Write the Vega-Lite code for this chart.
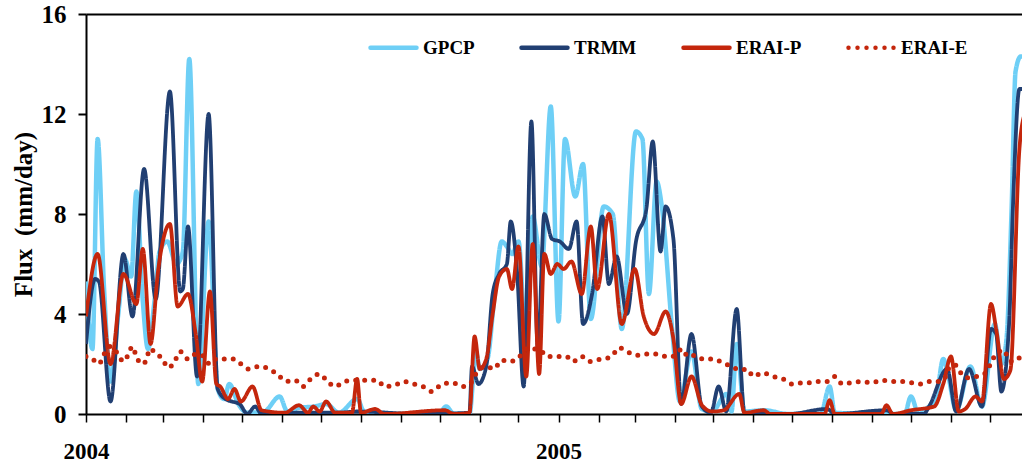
{
"$schema": "https://vega.github.io/schema/vega-lite/v6.json",
"width": 936, "height": 400,
"autosize": {"type": "none"},
"padding": {"left": 86, "top": 14, "right": 0, "bottom": 54},
"background": "white",
"config": {"view": {"stroke": null}, "font": "Liberation Serif",
  "axisY": {"titleFont": "Liberation Serif", "titleFontSize": 25, "titleFontWeight": "bold", "titleColor": "black", "titlePadding": 5}},
"data": {"values": [
{"date":"2004-01-01","series":"GPCP","value":5.3},{"date":"2004-01-06","series":"GPCP","value":2.6},{"date":"2004-01-10","series":"GPCP","value":11.0},{"date":"2004-01-15","series":"GPCP","value":5.0},{"date":"2004-01-20","series":"GPCP","value":1.3},{"date":"2004-01-26","series":"GPCP","value":4.0},{"date":"2004-01-31","series":"GPCP","value":6.2},{"date":"2004-02-05","series":"GPCP","value":5.5},{"date":"2004-02-09","series":"GPCP","value":8.9},{"date":"2004-02-14","series":"GPCP","value":4.5},{"date":"2004-02-18","series":"GPCP","value":2.6},{"date":"2004-02-23","series":"GPCP","value":4.5},{"date":"2004-02-27","series":"GPCP","value":6.5},{"date":"2004-03-04","series":"GPCP","value":6.9},{"date":"2004-03-11","series":"GPCP","value":6.0},{"date":"2004-03-16","series":"GPCP","value":6.5},{"date":"2004-03-21","series":"GPCP","value":14.2},{"date":"2004-03-28","series":"GPCP","value":1.2},{"date":"2004-04-05","series":"GPCP","value":7.7},{"date":"2004-04-12","series":"GPCP","value":1.0},{"date":"2004-04-17","series":"GPCP","value":0.6},{"date":"2004-04-21","series":"GPCP","value":1.2},{"date":"2004-04-28","series":"GPCP","value":0.4},{"date":"2004-05-05","series":"GPCP","value":0.05},{"date":"2004-05-18","series":"GPCP","value":0.1},{"date":"2004-05-30","series":"GPCP","value":0.7},{"date":"2004-06-05","series":"GPCP","value":0.1},{"date":"2004-06-14","series":"GPCP","value":0.25},{"date":"2004-06-26","series":"GPCP","value":0.3},{"date":"2004-07-05","series":"GPCP","value":0.4},{"date":"2004-07-15","series":"GPCP","value":0.05},{"date":"2004-07-29","series":"GPCP","value":0.6},{"date":"2004-08-04","series":"GPCP","value":0.05},{"date":"2004-08-30","series":"GPCP","value":0},{"date":"2004-09-30","series":"GPCP","value":0},{"date":"2004-10-06","series":"GPCP","value":0.3},{"date":"2004-10-12","series":"GPCP","value":0},{"date":"2004-10-24","series":"GPCP","value":0},{"date":"2004-10-29","series":"GPCP","value":2.5},{"date":"2004-11-01","series":"GPCP","value":1.8},{"date":"2004-11-07","series":"GPCP","value":2.2},{"date":"2004-11-12","series":"GPCP","value":4.5},{"date":"2004-11-18","series":"GPCP","value":6.9},{"date":"2004-11-22","series":"GPCP","value":6.7},{"date":"2004-11-26","series":"GPCP","value":6.4},{"date":"2004-12-01","series":"GPCP","value":6.9},{"date":"2004-12-07","series":"GPCP","value":2.6},{"date":"2004-12-12","series":"GPCP","value":7.9},{"date":"2004-12-19","series":"GPCP","value":5.9},{"date":"2004-12-26","series":"GPCP","value":12.3},{"date":"2005-01-01","series":"GPCP","value":3.7},{"date":"2005-01-06","series":"GPCP","value":11.0},{"date":"2005-01-14","series":"GPCP","value":8.7},{"date":"2005-01-20","series":"GPCP","value":10.0},{"date":"2005-01-26","series":"GPCP","value":3.8},{"date":"2005-02-05","series":"GPCP","value":8.3},{"date":"2005-02-12","series":"GPCP","value":8.0},{"date":"2005-02-19","series":"GPCP","value":3.4},{"date":"2005-03-02","series":"GPCP","value":11.3},{"date":"2005-03-07","series":"GPCP","value":11.0},{"date":"2005-03-12","series":"GPCP","value":4.8},{"date":"2005-03-18","series":"GPCP","value":9.3},{"date":"2005-03-22","series":"GPCP","value":8.3},{"date":"2005-03-30","series":"GPCP","value":3.4},{"date":"2005-04-05","series":"GPCP","value":0.5},{"date":"2005-04-14","series":"GPCP","value":2.5},{"date":"2005-04-22","series":"GPCP","value":0.2},{"date":"2005-04-30","series":"GPCP","value":0.1},{"date":"2005-05-11","series":"GPCP","value":0.8},{"date":"2005-05-15","series":"GPCP","value":0.1},{"date":"2005-05-19","series":"GPCP","value":2.8},{"date":"2005-05-25","series":"GPCP","value":0.1},{"date":"2005-06-09","series":"GPCP","value":0.15},{"date":"2005-06-28","series":"GPCP","value":0},{"date":"2005-07-23","series":"GPCP","value":0},{"date":"2005-07-30","series":"GPCP","value":1.1},{"date":"2005-08-03","series":"GPCP","value":0.05},{"date":"2005-09-06","series":"GPCP","value":0},{"date":"2005-09-26","series":"GPCP","value":0},{"date":"2005-10-01","series":"GPCP","value":0.7},{"date":"2005-10-07","series":"GPCP","value":0},{"date":"2005-10-15","series":"GPCP","value":0.3},{"date":"2005-10-20","series":"GPCP","value":0.5},{"date":"2005-10-26","series":"GPCP","value":2.2},{"date":"2005-10-30","series":"GPCP","value":1.5},{"date":"2005-11-05","series":"GPCP","value":0.15},{"date":"2005-11-16","series":"GPCP","value":1.9},{"date":"2005-11-25","series":"GPCP","value":0.3},{"date":"2005-12-05","series":"GPCP","value":3.6},{"date":"2005-12-10","series":"GPCP","value":2.0},{"date":"2005-12-14","series":"GPCP","value":3.0},{"date":"2005-12-18","series":"GPCP","value":8.3},{"date":"2005-12-21","series":"GPCP","value":13.7},{"date":"2005-12-25","series":"GPCP","value":14.3},{"date":"2005-12-28","series":"GPCP","value":14.3},
{"date":"2004-01-01","series":"TRMM","value":2.8},{"date":"2004-01-08","series":"TRMM","value":5.4},{"date":"2004-01-11","series":"TRMM","value":5.3},{"date":"2004-01-20","series":"TRMM","value":0.5},{"date":"2004-01-30","series":"TRMM","value":6.4},{"date":"2004-02-06","series":"TRMM","value":3.9},{"date":"2004-02-15","series":"TRMM","value":9.8},{"date":"2004-02-24","series":"TRMM","value":4.6},{"date":"2004-03-06","series":"TRMM","value":12.9},{"date":"2004-03-14","series":"TRMM","value":4.9},{"date":"2004-03-16","series":"TRMM","value":5.0},{"date":"2004-03-20","series":"TRMM","value":7.5},{"date":"2004-03-27","series":"TRMM","value":1.5},{"date":"2004-04-05","series":"TRMM","value":12.0},{"date":"2004-04-12","series":"TRMM","value":1.0},{"date":"2004-04-18","series":"TRMM","value":0.6},{"date":"2004-04-23","series":"TRMM","value":0.5},{"date":"2004-04-29","series":"TRMM","value":0.4},{"date":"2004-05-05","series":"TRMM","value":0},{"date":"2004-05-11","series":"TRMM","value":0.3},{"date":"2004-05-16","series":"TRMM","value":0},{"date":"2004-06-14","series":"TRMM","value":0.05},{"date":"2004-07-15","series":"TRMM","value":0.05},{"date":"2004-07-29","series":"TRMM","value":0.1},{"date":"2004-09-15","series":"TRMM","value":0},{"date":"2004-10-24","series":"TRMM","value":0.05},{"date":"2004-10-26","series":"TRMM","value":1.9},{"date":"2004-10-31","series":"TRMM","value":1.2},{"date":"2004-11-06","series":"TRMM","value":1.9},{"date":"2004-11-11","series":"TRMM","value":4.8},{"date":"2004-11-16","series":"TRMM","value":5.6},{"date":"2004-11-22","series":"TRMM","value":6.0},{"date":"2004-11-25","series":"TRMM","value":7.7},{"date":"2004-11-30","series":"TRMM","value":5.6},{"date":"2004-12-05","series":"TRMM","value":1.1},{"date":"2004-12-11","series":"TRMM","value":11.7},{"date":"2004-12-16","series":"TRMM","value":2.6},{"date":"2004-12-21","series":"TRMM","value":8.0},{"date":"2004-12-27","series":"TRMM","value":7.0},{"date":"2005-01-02","series":"TRMM","value":6.9},{"date":"2005-01-09","series":"TRMM","value":6.6},{"date":"2005-01-15","series":"TRMM","value":7.7},{"date":"2005-01-20","series":"TRMM","value":3.6},{"date":"2005-01-27","series":"TRMM","value":4.8},{"date":"2005-02-04","series":"TRMM","value":7.9},{"date":"2005-02-09","series":"TRMM","value":5.2},{"date":"2005-02-15","series":"TRMM","value":6.3},{"date":"2005-02-23","series":"TRMM","value":4.0},{"date":"2005-03-02","series":"TRMM","value":6.9},{"date":"2005-03-10","series":"TRMM","value":8.2},{"date":"2005-03-15","series":"TRMM","value":10.9},{"date":"2005-03-21","series":"TRMM","value":6.5},{"date":"2005-03-25","series":"TRMM","value":8.3},{"date":"2005-03-31","series":"TRMM","value":7.0},{"date":"2005-04-06","series":"TRMM","value":0.4},{"date":"2005-04-14","series":"TRMM","value":3.2},{"date":"2005-04-22","series":"TRMM","value":0.3},{"date":"2005-04-29","series":"TRMM","value":0.05},{"date":"2005-05-05","series":"TRMM","value":1.1},{"date":"2005-05-11","series":"TRMM","value":0.1},{"date":"2005-05-19","series":"TRMM","value":4.2},{"date":"2005-05-25","series":"TRMM","value":0.05},{"date":"2005-06-28","series":"TRMM","value":0},{"date":"2005-07-28","series":"TRMM","value":0.2},{"date":"2005-08-03","series":"TRMM","value":0},{"date":"2005-09-12","series":"TRMM","value":0.15},{"date":"2005-09-18","series":"TRMM","value":0},{"date":"2005-10-11","series":"TRMM","value":0},{"date":"2005-10-15","series":"TRMM","value":0.3},{"date":"2005-10-29","series":"TRMM","value":1.8},{"date":"2005-11-05","series":"TRMM","value":0.1},{"date":"2005-11-15","series":"TRMM","value":1.8},{"date":"2005-11-25","series":"TRMM","value":0.3},{"date":"2005-12-02","series":"TRMM","value":3.4},{"date":"2005-12-06","series":"TRMM","value":3.2},{"date":"2005-12-10","series":"TRMM","value":0.9},{"date":"2005-12-16","series":"TRMM","value":3.6},{"date":"2005-12-19","series":"TRMM","value":8.3},{"date":"2005-12-24","series":"TRMM","value":13.0},{"date":"2005-12-28","series":"TRMM","value":13.0},
{"date":"2004-01-01","series":"ERAI-P","value":3.9},{"date":"2004-01-10","series":"ERAI-P","value":6.4},{"date":"2004-01-20","series":"ERAI-P","value":2.0},{"date":"2004-01-30","series":"ERAI-P","value":5.6},{"date":"2004-02-09","series":"ERAI-P","value":4.4},{"date":"2004-02-14","series":"ERAI-P","value":6.6},{"date":"2004-02-20","series":"ERAI-P","value":2.8},{"date":"2004-02-26","series":"ERAI-P","value":5.8},{"date":"2004-03-06","series":"ERAI-P","value":7.6},{"date":"2004-03-12","series":"ERAI-P","value":4.3},{"date":"2004-03-20","series":"ERAI-P","value":4.8},{"date":"2004-03-26","series":"ERAI-P","value":3.2},{"date":"2004-03-31","series":"ERAI-P","value":1.3},{"date":"2004-04-06","series":"ERAI-P","value":4.9},{"date":"2004-04-11","series":"ERAI-P","value":1.2},{"date":"2004-04-14","series":"ERAI-P","value":1.1},{"date":"2004-04-20","series":"ERAI-P","value":0.6},{"date":"2004-04-25","series":"ERAI-P","value":1.0},{"date":"2004-04-30","series":"ERAI-P","value":0.5},{"date":"2004-05-09","series":"ERAI-P","value":1.1},{"date":"2004-05-16","series":"ERAI-P","value":0.15},{"date":"2004-06-03","series":"ERAI-P","value":0.05},{"date":"2004-06-14","series":"ERAI-P","value":0.35},{"date":"2004-06-21","series":"ERAI-P","value":0.05},{"date":"2004-06-25","series":"ERAI-P","value":0.3},{"date":"2004-06-30","series":"ERAI-P","value":0.1},{"date":"2004-07-05","series":"ERAI-P","value":0.5},{"date":"2004-07-12","series":"ERAI-P","value":0.05},{"date":"2004-07-25","series":"ERAI-P","value":0.05},{"date":"2004-07-29","series":"ERAI-P","value":1.4},{"date":"2004-08-01","series":"ERAI-P","value":0.05},{"date":"2004-08-12","series":"ERAI-P","value":0.2},{"date":"2004-08-19","series":"ERAI-P","value":0},{"date":"2004-10-05","series":"ERAI-P","value":0.15},{"date":"2004-10-12","series":"ERAI-P","value":0},{"date":"2004-10-24","series":"ERAI-P","value":0.05},{"date":"2004-10-28","series":"ERAI-P","value":3.1},{"date":"2004-11-01","series":"ERAI-P","value":1.8},{"date":"2004-11-06","series":"ERAI-P","value":2.2},{"date":"2004-11-11","series":"ERAI-P","value":4.0},{"date":"2004-11-16","series":"ERAI-P","value":5.5},{"date":"2004-11-22","series":"ERAI-P","value":5.8},{"date":"2004-11-26","series":"ERAI-P","value":5.0},{"date":"2004-12-01","series":"ERAI-P","value":6.7},{"date":"2004-12-07","series":"ERAI-P","value":1.5},{"date":"2004-12-12","series":"ERAI-P","value":6.8},{"date":"2004-12-17","series":"ERAI-P","value":1.6},{"date":"2004-12-21","series":"ERAI-P","value":6.4},{"date":"2004-12-26","series":"ERAI-P","value":5.6},{"date":"2004-12-31","series":"ERAI-P","value":6.0},{"date":"2005-01-05","series":"ERAI-P","value":5.8},{"date":"2005-01-11","series":"ERAI-P","value":6.1},{"date":"2005-01-19","series":"ERAI-P","value":4.8},{"date":"2005-01-26","series":"ERAI-P","value":7.5},{"date":"2005-01-31","series":"ERAI-P","value":5.0},{"date":"2005-02-09","series":"ERAI-P","value":8.0},{"date":"2005-02-19","series":"ERAI-P","value":3.6},{"date":"2005-03-01","series":"ERAI-P","value":5.8},{"date":"2005-03-08","series":"ERAI-P","value":3.9},{"date":"2005-03-16","series":"ERAI-P","value":3.2},{"date":"2005-03-25","series":"ERAI-P","value":4.1},{"date":"2005-03-31","series":"ERAI-P","value":3.0},{"date":"2005-04-06","series":"ERAI-P","value":0.4},{"date":"2005-04-14","series":"ERAI-P","value":1.5},{"date":"2005-04-22","series":"ERAI-P","value":0.36},{"date":"2005-04-30","series":"ERAI-P","value":0.1},{"date":"2005-05-09","series":"ERAI-P","value":0.15},{"date":"2005-05-21","series":"ERAI-P","value":0.8},{"date":"2005-05-25","series":"ERAI-P","value":0.05},{"date":"2005-06-09","series":"ERAI-P","value":0.15},{"date":"2005-06-14","series":"ERAI-P","value":0},{"date":"2005-07-26","series":"ERAI-P","value":0},{"date":"2005-07-30","series":"ERAI-P","value":0.55},{"date":"2005-08-03","series":"ERAI-P","value":0},{"date":"2005-09-08","series":"ERAI-P","value":0},{"date":"2005-09-12","series":"ERAI-P","value":0.35},{"date":"2005-09-17","series":"ERAI-P","value":0},{"date":"2005-10-01","series":"ERAI-P","value":0.15},{"date":"2005-10-19","series":"ERAI-P","value":0.3},{"date":"2005-10-26","series":"ERAI-P","value":1.2},{"date":"2005-11-01","series":"ERAI-P","value":2.3},{"date":"2005-11-07","series":"ERAI-P","value":0.1},{"date":"2005-11-12","series":"ERAI-P","value":0.2},{"date":"2005-11-20","series":"ERAI-P","value":0.7},{"date":"2005-11-25","series":"ERAI-P","value":0.5},{"date":"2005-12-02","series":"ERAI-P","value":4.4},{"date":"2005-12-06","series":"ERAI-P","value":3.4},{"date":"2005-12-12","series":"ERAI-P","value":1.4},{"date":"2005-12-17","series":"ERAI-P","value":1.75},{"date":"2005-12-24","series":"ERAI-P","value":10.6},{"date":"2005-12-28","series":"ERAI-P","value":12.0},
{"date":"2004-01-01","series":"ERAI-E","value":2.3},{"date":"2004-01-06","series":"ERAI-E","value":2.2},{"date":"2004-01-11","series":"ERAI-E","value":2.0},{"date":"2004-01-15","series":"ERAI-E","value":2.4},{"date":"2004-01-20","series":"ERAI-E","value":2.7},{"date":"2004-01-25","series":"ERAI-E","value":2.45},{"date":"2004-01-30","series":"ERAI-E","value":2.1},{"date":"2004-02-02","series":"ERAI-E","value":2.3},{"date":"2004-02-06","series":"ERAI-E","value":2.7},{"date":"2004-02-09","series":"ERAI-E","value":2.3},{"date":"2004-02-13","series":"ERAI-E","value":2.0},{"date":"2004-02-17","series":"ERAI-E","value":2.15},{"date":"2004-02-19","series":"ERAI-E","value":2.6},{"date":"2004-02-23","series":"ERAI-E","value":2.5},{"date":"2004-02-29","series":"ERAI-E","value":2.2},{"date":"2004-03-05","series":"ERAI-E","value":1.85},{"date":"2004-03-10","series":"ERAI-E","value":2.15},{"date":"2004-03-14","series":"ERAI-E","value":2.5},{"date":"2004-03-20","series":"ERAI-E","value":2.2},{"date":"2004-03-26","series":"ERAI-E","value":2.4},{"date":"2004-03-31","series":"ERAI-E","value":2.35},{"date":"2004-04-06","series":"ERAI-E","value":2.0},{"date":"2004-04-11","series":"ERAI-E","value":2.2},{"date":"2004-04-18","series":"ERAI-E","value":2.2},{"date":"2004-04-24","series":"ERAI-E","value":2.2},{"date":"2004-04-30","series":"ERAI-E","value":2.0},{"date":"2004-05-06","series":"ERAI-E","value":1.8},{"date":"2004-05-14","series":"ERAI-E","value":1.9},{"date":"2004-05-22","series":"ERAI-E","value":1.8},{"date":"2004-05-29","series":"ERAI-E","value":1.55},{"date":"2004-06-04","series":"ERAI-E","value":1.3},{"date":"2004-06-11","series":"ERAI-E","value":1.35},{"date":"2004-06-17","series":"ERAI-E","value":1.1},{"date":"2004-06-23","series":"ERAI-E","value":1.4},{"date":"2004-06-30","series":"ERAI-E","value":1.6},{"date":"2004-07-06","series":"ERAI-E","value":1.3},{"date":"2004-07-12","series":"ERAI-E","value":1.1},{"date":"2004-07-19","series":"ERAI-E","value":1.3},{"date":"2004-07-26","series":"ERAI-E","value":1.35},{"date":"2004-08-01","series":"ERAI-E","value":1.35},{"date":"2004-08-08","series":"ERAI-E","value":1.35},{"date":"2004-08-14","series":"ERAI-E","value":1.35},{"date":"2004-08-19","series":"ERAI-E","value":1.1},{"date":"2004-08-27","series":"ERAI-E","value":1.15},{"date":"2004-09-03","series":"ERAI-E","value":1.3},{"date":"2004-09-11","series":"ERAI-E","value":1.2},{"date":"2004-09-18","series":"ERAI-E","value":1.1},{"date":"2004-09-25","series":"ERAI-E","value":0.9},{"date":"2004-10-03","series":"ERAI-E","value":1.2},{"date":"2004-10-11","series":"ERAI-E","value":1.25},{"date":"2004-10-19","series":"ERAI-E","value":1.1},{"date":"2004-10-26","series":"ERAI-E","value":1.3},{"date":"2004-10-30","series":"ERAI-E","value":1.7},{"date":"2004-11-06","series":"ERAI-E","value":1.9},{"date":"2004-11-12","series":"ERAI-E","value":1.8},{"date":"2004-11-18","series":"ERAI-E","value":2.15},{"date":"2004-11-24","series":"ERAI-E","value":2.1},{"date":"2004-12-01","series":"ERAI-E","value":2.25},{"date":"2004-12-07","series":"ERAI-E","value":2.6},{"date":"2004-12-13","series":"ERAI-E","value":2.6},{"date":"2004-12-18","series":"ERAI-E","value":2.55},{"date":"2004-12-23","series":"ERAI-E","value":2.3},{"date":"2004-12-29","series":"ERAI-E","value":2.3},{"date":"2005-01-07","series":"ERAI-E","value":2.3},{"date":"2005-01-12","series":"ERAI-E","value":2.1},{"date":"2005-01-19","series":"ERAI-E","value":2.3},{"date":"2005-01-25","series":"ERAI-E","value":2.1},{"date":"2005-01-29","series":"ERAI-E","value":2.15},{"date":"2005-02-04","series":"ERAI-E","value":2.2},{"date":"2005-02-11","series":"ERAI-E","value":2.3},{"date":"2005-02-17","series":"ERAI-E","value":2.65},{"date":"2005-02-23","series":"ERAI-E","value":2.5},{"date":"2005-03-02","series":"ERAI-E","value":2.35},{"date":"2005-03-10","series":"ERAI-E","value":2.4},{"date":"2005-03-18","series":"ERAI-E","value":2.4},{"date":"2005-03-25","series":"ERAI-E","value":2.3},{"date":"2005-03-30","series":"ERAI-E","value":2.3},{"date":"2005-04-07","series":"ERAI-E","value":2.6},{"date":"2005-04-11","series":"ERAI-E","value":2.3},{"date":"2005-04-17","series":"ERAI-E","value":2.35},{"date":"2005-04-23","series":"ERAI-E","value":2.2},{"date":"2005-05-01","series":"ERAI-E","value":2.2},{"date":"2005-05-08","series":"ERAI-E","value":2.05},{"date":"2005-05-15","series":"ERAI-E","value":1.9},{"date":"2005-05-22","series":"ERAI-E","value":1.75},{"date":"2005-05-27","series":"ERAI-E","value":1.8},{"date":"2005-06-01","series":"ERAI-E","value":1.5},{"date":"2005-06-08","series":"ERAI-E","value":1.65},{"date":"2005-06-16","series":"ERAI-E","value":1.5},{"date":"2005-06-24","series":"ERAI-E","value":1.4},{"date":"2005-07-01","series":"ERAI-E","value":1.2},{"date":"2005-07-09","series":"ERAI-E","value":1.25},{"date":"2005-07-16","series":"ERAI-E","value":1.25},{"date":"2005-07-22","series":"ERAI-E","value":1.3},{"date":"2005-07-28","series":"ERAI-E","value":1.3},{"date":"2005-08-03","series":"ERAI-E","value":1.5},{"date":"2005-08-09","series":"ERAI-E","value":1.2},{"date":"2005-08-15","series":"ERAI-E","value":1.25},{"date":"2005-08-24","series":"ERAI-E","value":1.3},{"date":"2005-09-01","series":"ERAI-E","value":1.25},{"date":"2005-09-08","series":"ERAI-E","value":1.35},{"date":"2005-09-16","series":"ERAI-E","value":1.3},{"date":"2005-09-24","series":"ERAI-E","value":1.3},{"date":"2005-10-02","series":"ERAI-E","value":1.25},{"date":"2005-10-09","series":"ERAI-E","value":1.2},{"date":"2005-10-16","series":"ERAI-E","value":1.3},{"date":"2005-10-23","series":"ERAI-E","value":1.3},{"date":"2005-10-29","series":"ERAI-E","value":1.6},{"date":"2005-11-01","series":"ERAI-E","value":2.2},{"date":"2005-11-07","series":"ERAI-E","value":1.75},{"date":"2005-11-13","series":"ERAI-E","value":1.45},{"date":"2005-11-21","series":"ERAI-E","value":1.5},{"date":"2005-11-28","series":"ERAI-E","value":1.65},{"date":"2005-12-02","series":"ERAI-E","value":2.05},{"date":"2005-12-06","series":"ERAI-E","value":2.4},{"date":"2005-12-12","series":"ERAI-E","value":2.55},{"date":"2005-12-16","series":"ERAI-E","value":2.15},{"date":"2005-12-19","series":"ERAI-E","value":2.1},{"date":"2005-12-24","series":"ERAI-E","value":2.25},{"date":"2005-12-28","series":"ERAI-E","value":2.3}
]},
"encoding": {
  "y": {"field": "value", "type": "quantitative", "scale": {"domain": [0, 16], "nice": false, "zero": true},
    "axis": {"values": [0, 4, 8, 12, 16], "title": "Flux\u00a0 (mm/day)", "titleFont": "Liberation Serif", "titleFontSize": 25, "titleFontWeight": "bold", "titleColor": "black", "titlePadding": 5,
      "labelFont": "Liberation Serif", "labelFontSize": 25, "labelFontWeight": "bold", "labelColor": "black", "labelPadding": 12,
      "tickSize": 8, "tickColor": "black", "tickWidth": 2, "domainColor": "black", "domainWidth": 2, "grid": false}},
  "color": {"field": "series", "type": "nominal",
    "scale": {"domain": ["GPCP", "TRMM", "ERAI-P", "ERAI-E"], "range": ["#6ECFF6", "#213F72", "#C4260C", "#C4260C"]},
    "legend": {"title": null, "orient": "none", "legendX": 282, "legendY": 8, "direction": "horizontal", "padding": 0,
      "symbolType": "stroke", "symbolSize": 2116, "symbolStrokeWidth": 4,
      "labelFont": "Liberation Serif", "labelFontWeight": "bold", "labelFontSize": 19, "labelColor": "black", "labelOffset": 4, "columnPadding": 37,
      "encode": {"symbols": {"update": {"strokeCap": {"value": "round"}, "strokeWidth": {"value": 4.5}}}}}},
  "strokeDash": {"field": "series", "type": "nominal",
    "scale": {"domain": ["GPCP", "TRMM", "ERAI-P", "ERAI-E"], "range": [[1, 0], [1, 0], [1, 0], [0, 9]]},
    "legend": {"title": null, "orient": "none", "legendX": 282, "legendY": 8, "direction": "horizontal", "padding": 0,
      "symbolType": "stroke", "symbolSize": 2116, "symbolStrokeWidth": 4,
      "labelFont": "Liberation Serif", "labelFontWeight": "bold", "labelFontSize": 19, "labelColor": "black", "labelOffset": 4, "columnPadding": 37,
      "encode": {"symbols": {"update": {"strokeCap": {"value": "round"}, "strokeWidth": {"value": 4.5}}}}}}
},
"layer": [
  {"transform": [{"filter": "datum.series === 'GPCP'"}],
   "mark": {"type": "line", "interpolate": "monotone", "strokeWidth": 4.5, "clip": true, "strokeJoin": "round"},
   "encoding": {"x": {"field": "date", "type": "temporal",
     "scale": {"type": "utc", "domain": [{"year": 2004, "month": 1, "date": 1, "utc": true}, {"year": 2005, "month": 12, "date": 26, "utc": true}]},
     "axis": {"orient": "bottom", "title": null, "tickCount": {"interval": "month", "step": 1},
       "labelExpr": "utcmonth(datum.value) == 0 ? utcFormat(datum.value, '%Y') : ''",
       "labelFlush": false, "labelOverlap": false, "labelFont": "Liberation Serif", "labelFontSize": 23, "labelFontWeight": "bold", "labelColor": "black", "labelPadding": 18,
       "tickSize": 8, "tickWidth": 1.5, "tickColor": "black", "domainColor": "black", "domainWidth": 2, "grid": false}}}},
  {"transform": [{"filter": "datum.series === 'TRMM'"}],
   "mark": {"type": "line", "interpolate": "monotone", "strokeWidth": 3.8, "clip": true, "strokeJoin": "round"},
   "encoding": {"x": {"field": "date", "type": "temporal",
     "axis": {"orient": "top", "title": null, "labels": false, "ticks": false, "domain": true, "domainColor": "black", "domainWidth": 2, "grid": false}}}},
  {"transform": [{"filter": "datum.series === 'ERAI-P'"}],
   "mark": {"type": "line", "interpolate": "monotone", "strokeWidth": 3.8, "clip": true, "strokeJoin": "round"},
   "encoding": {"x": {"field": "date", "type": "temporal", "axis": null}}},
  {"transform": [{"filter": "datum.series === 'ERAI-E'"}],
   "mark": {"type": "line", "interpolate": "monotone", "strokeWidth": 5, "clip": true, "strokeCap": "round"},
   "encoding": {"x": {"field": "date", "type": "temporal", "axis": null}}}
],
"resolve": {"axis": {"x": "independent"}}
}
